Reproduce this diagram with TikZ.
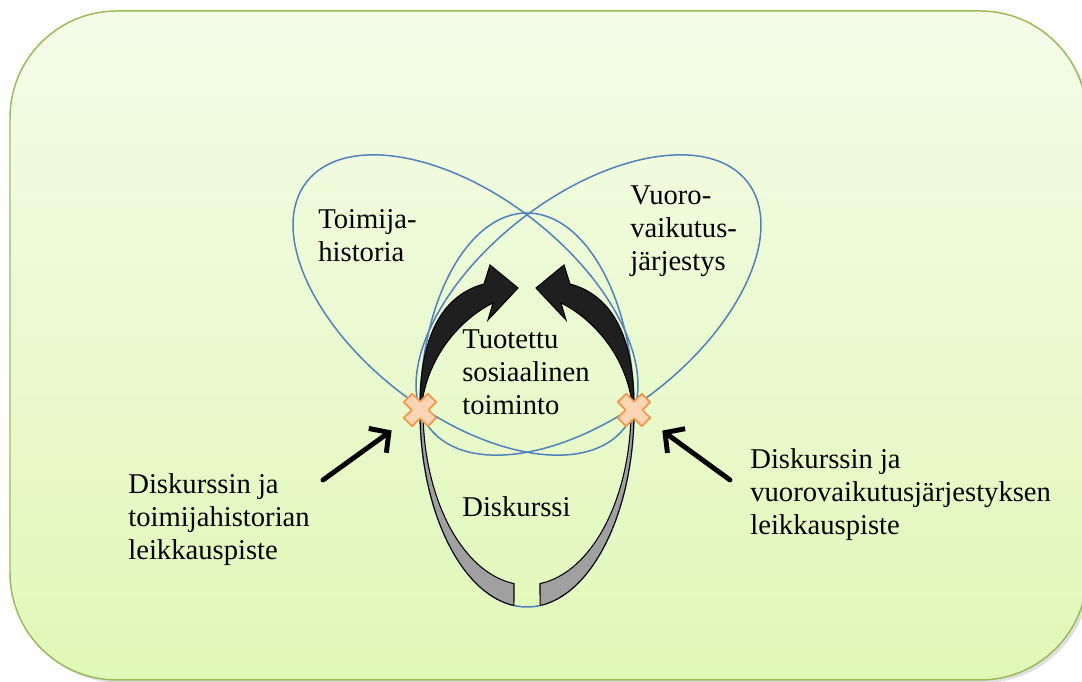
\documentclass[tikz,border=0pt]{standalone}
\usepackage{fontspec}
\setmainfont{Liberation Serif}
\usetikzlibrary{arrows.meta}
\usetikzlibrary{calc}
\usetikzlibrary{shadows}
\definecolor{panelborder}{RGB}{155,187,89}
\definecolor{paneltop}{RGB}{244,252,232}
\definecolor{panelbottom}{RGB}{224,248,183}
\definecolor{loopblue}{RGB}{79,129,189}
\definecolor{crossfill}{RGB}{252,213,181}
\definecolor{crossline}{RGB}{247,150,70}
\definecolor{bandgray}{RGB}{160,160,160}

\begin{document}
\begin{tikzpicture}[ x=0.02cm, y=0.02cm, >=Stealth,
      orbit/.style={loopblue, line width=0.85pt},
      discband/.style={draw=black, line width=0.6pt, fill=bandgray},
      turnarrow/.style={draw=black, line width=0.6pt, fill=black!88},
      cutmark/.style={draw=crossline, line width=1pt, fill=crossfill, line join=round},
      pointer/.style={line width=2.8pt, line cap=round,
        -{Straight Barb[length=2.8mm, width=6mm]}, shorten >=0.7cm},
      every node/.style={font=\fontsize{16.3}{18.8}\selectfont, inner sep=0pt} ]

      \useasboundingbox (0,0) rectangle (1082,682);

      % Background panel
      \draw[panelborder, line width=0.85pt, top color=paneltop, bottom color=panelbottom,
        rounded corners=2.14cm, drop shadow={opacity=0.25, shadow xshift=0.06cm,
        shadow yshift=-0.06cm}] (10,2) rectangle (1087,671);

      % Loops
      \draw[orbit, rotate around={-37.7:(465.5,377)}] (465.5,377)
      ellipse[x radius=201, y radius=109];
      \draw[orbit, rotate around={37.7:(588.5,377)}] (588.5,377)
      ellipse[x radius=201, y radius=109];
      \draw[orbit] (527,272) ellipse[x radius=107, y radius=197];

      % Crossing points
      \coordinate (cutL) at (420,272); \coordinate (cutR) at (634,272);

      % Bands and curved arrows, mirrored for the right side
      \foreach \s/\o in {1/0, -1/1054} {
        \begin{scope}[shift={(\o,0)}, xscale=\s]
          \filldraw[discband] (420,272) arc[start angle=180, end angle=263,
          x radius=107, y radius=197] -- (514,98.4) arc[start angle=262.8,
          end angle=180, x radius=104, y radius=175] -- cycle;

          \filldraw[turnarrow] (420,272) .. controls (419,357) and (450,389) ..
          (484,398) -- (490,417) -- (518,394) -- (488,362) -- (493,379)
          .. controls (468,367) and (427,332) .. (421,272) -- cycle;

          \begin{scope}[shift={(420,272)}, rotate=45]
            \filldraw[cutmark] (6,17) -- (6,6) -- (17,6) -- (17,-6) -- (6,-6)
            -- (6,-17) -- (-6,-17) -- (-6,-6) -- (-17,-6) -- (-17,6) -- (-6,6)
            -- (-6,17) -- cycle;
          \end{scope}
        \end{scope}
      }

      % Labels (base = baseline of the last line)
      \node[anchor=base west, align=left] (toimija) at (318,420) {Toimija-\\historia};
      \node[anchor=base west, align=left] (vuoro) at (630,411)
      {Vuoro-\\vaikutus-\\järjestys};
      \node[anchor=base west, align=left] (tuotettu) at (462,267)
      {Tuotettu\\sosiaalinen\\toiminto};
      \node[anchor=base west] (diskurssi) at (462,165) {Diskurssi};
      \node[anchor=base west, align=left] (cutLtext) at (128,122)
      {Diskurssin ja\\toimijahistorian\\leikkauspiste};
      \node[anchor=base west, align=left] (cutRtext) at (750,147)
      {Diskurssin ja\\vuorovaikutusjärjestyksen\\leikkauspiste};

      % Pointers to the crossing points
      \coordinate (tailL) at (323,202); \coordinate (tailR) at (730,202);
      \draw[pointer] (tailL) -- (cutL);
      \draw[pointer] (tailR) -- (cutR);
    \end{tikzpicture}
\end{document}
